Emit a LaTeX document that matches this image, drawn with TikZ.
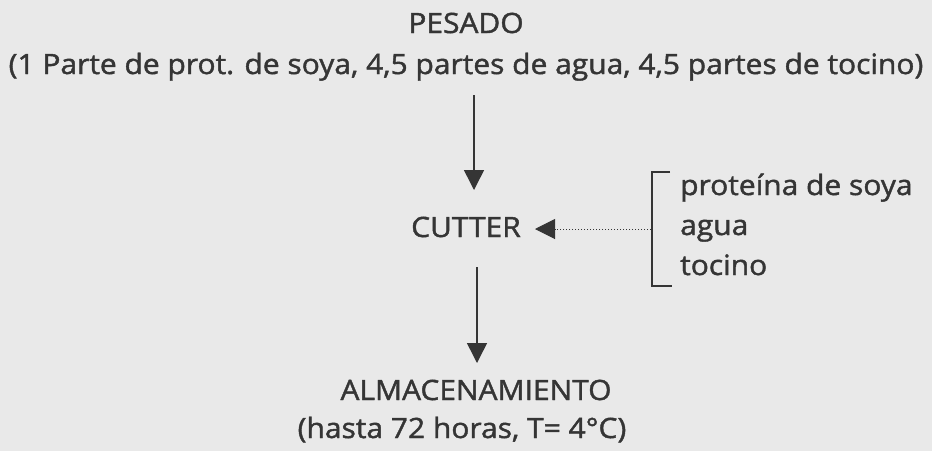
\documentclass[tikz,border=0pt]{standalone}
\usepackage{fontspec}
\setmainfont{Open Sans}[FakeStretch=1.07,FakeBold=1.5]
\usetikzlibrary{arrows.meta}
\definecolor{paper}{HTML}{E9E9E9}
\definecolor{ink}{HTML}{353535}
\begin{document}
\begin{tikzpicture}[x=1pt,y=-1pt,
  lbl/.style={text=ink,font=\fontsize{28}{32}\selectfont,inner sep=0pt,anchor=base},
  flow/.style={draw=ink,line width=1.5pt,-{Triangle[width=20pt,length=20pt]}},
  feed/.style={draw=ink,line width=1pt,dotted,-{Triangle[width=20pt,length=20pt]}},
  brk/.style={draw=ink,line width=1.5pt}]
\fill[paper] (0,0) rectangle (932,451);
\useasboundingbox (0,0) rectangle (932,451);
\node[lbl] (pesado) at (466,33) {PESADO};
\node[lbl] (pesadosub) at (466,74) {(1 Parte de prot. de soya, 4,5 partes de agua, 4,5 partes de tocino)};
\node[lbl] (cutter) at (466,237) {CUTTER};
\node[lbl] (alm) at (476,400) {ALMACENAMIENTO};
\node[lbl] (almsub) at (462,438) {(hasta 72 horas, T= 4°C)};
\node[lbl,anchor=base west] (ing1) at (680,195) {proteína de soya};
\node[lbl,anchor=base west] (ing2) at (680,235) {agua};
\node[lbl,anchor=base west] (ing3) at (680,275) {tocino};
\coordinate (a1s) at (474,95);
\coordinate (a1e) at (474,190);
\coordinate (a2s) at (477,267);
\coordinate (a2e) at (477,363);
\coordinate (bt) at (670,172);
\coordinate (bb) at (672,286);
\coordinate (bm) at (651,229);
\coordinate (ctip) at (535,229);
\draw[flow] (a1s) -- (a1e);
\draw[flow] (a2s) -- (a2e);
\draw[brk] (bt) -- (652,172) -- (652,286) -- (bb);
\draw[feed] (bm) -- (ctip);
\end{tikzpicture}
\end{document}
